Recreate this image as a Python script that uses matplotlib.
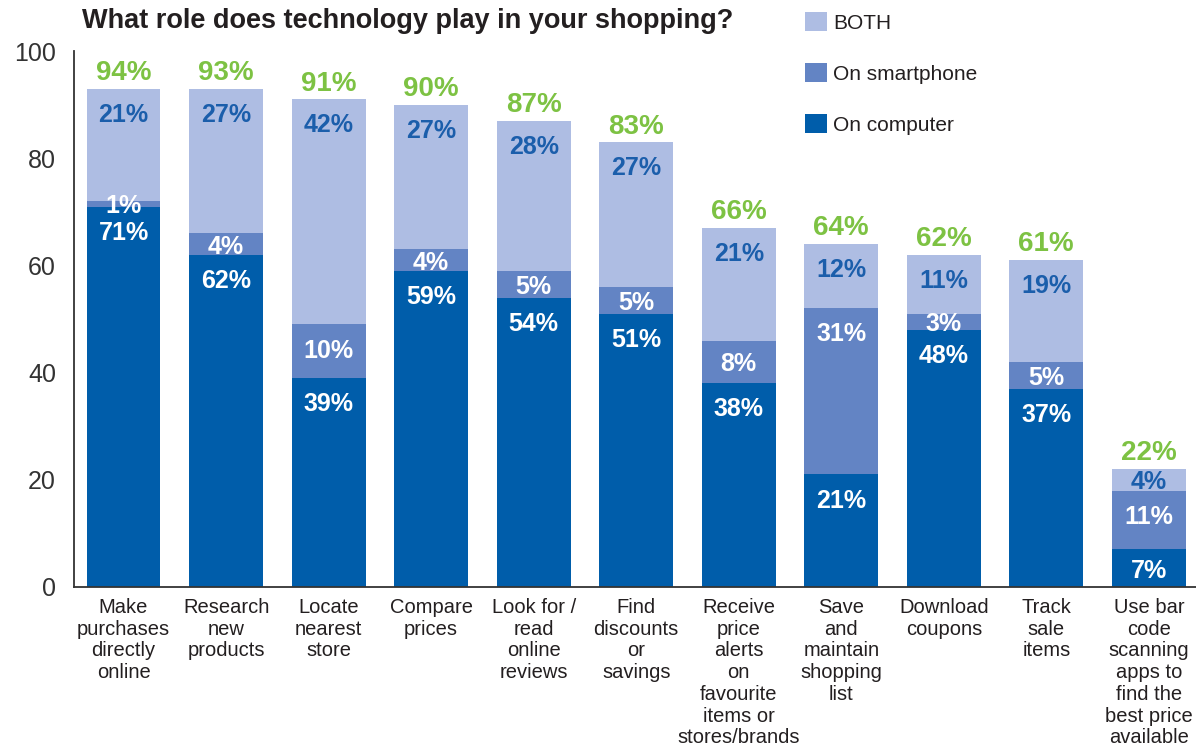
import numpy as np
import matplotlib
matplotlib.use('Agg')
import matplotlib.pyplot as plt

plt.rcParams['font.family'] = ['Liberation Sans', 'DejaVu Sans']

# data
categories = ["Make\npurchases\ndirectly\nonline", "Research\nnew\nproducts",
              "Locate\nnearest\nstore", "Compare\nprices",
              "Look for /\nread\nonline\nreviews", "Find\ndiscounts\nor\nsavings",
              "Receive\nprice\nalerts\non\nfavourite\nitems or\nstores/brands",
              "Save\nand\nmaintain\nshopping\nlist", "Download\ncoupons",
              "Track\nsale\nitems",
              "Use bar\ncode\nscanning\napps to\nfind the\nbest price\navailable"]
on_computer = [71, 62, 39, 59, 54, 51, 38, 21, 48, 37, 7]
on_smartphone = [1, 4, 10, 4, 5, 5, 8, 31, 3, 5, 11]
both = [21, 27, 42, 27, 28, 27, 21, 12, 11, 19, 4]
totals = [94, 93, 91, 90, 87, 83, 66, 64, 62, 61, 22]
yticks = [0, 20, 40, 60, 80, 100]

c_dark = '#005DAA'
c_mid = '#6384C4'
c_light = '#AEBDE3'
c_green = '#7DC243'
c_label = '#1B5EAB'
c_text = '#231F20'

fig = plt.figure(figsize=(11.96, 7.53), dpi=100)
ax = fig.add_axes([0.0619, 0.2205, 1 - 0.0619, 0.932 - 0.2205])

x = np.arange(len(categories))
w = 0.72
comp = np.array(on_computer)
smart = np.array(on_smartphone)
bth = np.array(both)

ax.bar(x, comp, w, color=c_dark, label='On computer')
ax.bar(x, smart, w, bottom=comp, color=c_mid, label='On smartphone')
ax.bar(x, bth, w, bottom=comp + smart, color=c_light, label='BOTH')

def seg_label(xi, top, h, color):
    # label sits a little below the top of its segment
    off = min(4.4, h / 2)
    ax.text(xi, top - off, f'{h}%', ha='center', va='center_baseline',
            fontsize=18, fontweight='bold', color=color)

for i in x:
    seg_label(i, comp[i], comp[i], 'white')
    seg_label(i, comp[i] + smart[i], smart[i], 'white')
    top = comp[i] + smart[i] + bth[i]
    seg_label(i, top, bth[i], c_label)
    ax.text(i, top + 3.5, f'{totals[i]}%', ha='center', va='center_baseline',
            fontsize=20, fontweight='bold', color=c_green)

ax.set_xlim(-0.483, 10.46)
ax.set_ylim(0, 100)
ax.set_yticks(yticks)
ax.set_xticks(x)
ax.set_xticklabels(categories, fontsize=14.5, color=c_text, linespacing=1.18)
ax.tick_params(axis='y', length=0, pad=13, labelsize=18, labelcolor='#333333')
ax.tick_params(axis='x', length=0, pad=8)
for s in ['top', 'right']:
    ax.spines[s].set_visible(False)
for s in ['left', 'bottom']:
    ax.spines[s].set_color('#333333')
    ax.spines[s].set_linewidth(1.3)

fig.text(82 / 1196, 1 - 21 / 753, 'What role does technology play in your shopping?',
         ha='left', va='center', fontsize=19.5, fontweight='bold', color=c_text)

handles, labels = ax.get_legend_handles_labels()
fig.legend(handles[::-1], labels[::-1], loc='upper left',
           bbox_to_anchor=(805 / 1196, 1 - 12 / 753), frameon=False,
           fontsize=15, handlelength=1.05, handleheight=1.05, handletextpad=0.3,
           labelspacing=1.45, borderpad=0, borderaxespad=0, labelcolor=c_text)

fig.savefig('out.png', dpi=100)
